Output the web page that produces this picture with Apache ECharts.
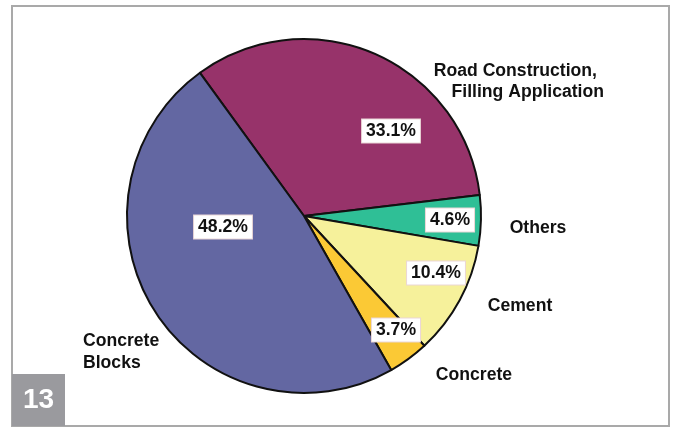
<!DOCTYPE html>
<html>
<head>
<meta charset="utf-8">
<script src="https://cdn.jsdelivr.net/npm/echarts@6/dist/echarts.min.js"></script>
<style>
  html, body { margin: 0; padding: 0; background: #fff; }
  #chart { width: 675px; height: 428px; }
</style>
</head>
<body>
<div id="chart"></div>
<script>
// Uses of fly ash, share of total (%), drawn clockwise from the upper left
const categories = ['Road Construction,\nFilling Application', 'Others', 'Cement', 'Concrete', 'Concrete\nBlocks'];
const shares = [33.1, 4.6, 10.4, 3.7, 48.2];
const sliceColors = ['#97336a', '#2fbf96', '#f6f19b', '#fbc935', '#6367a2'];
const figureNumber = '13';

// Label anchor points (layout only)
const pctLabelPos = [[391, 131], [450, 220], [436, 273], [396, 330], [223, 227]];
const nameLabelPos = [[604, 82, 'right'], [538, 228, 'center'], [520, 306, 'center'], [474, 375, 'center'], [83, 352, 'left']];

const FONT = '"Liberation Sans", Arial, sans-serif';
const NAME_SIZE = 17.6;

const pieData = categories.map((name, i) => ({
  name: name,
  value: shares[i],
  itemStyle: { color: sliceColors[i] }
}));

const chart = echarts.init(document.getElementById('chart'));

chart.setOption({
  backgroundColor: '#ffffff',
  animation: false,
  graphic: [
    {
      type: 'rect',
      shape: { x: 12, y: 6, width: 657, height: 420 },
      style: { fill: 'none', stroke: '#a9a9a9', lineWidth: 2 },
      z: 10
    },
    {
      type: 'rect',
      shape: { x: 12, y: 374, width: 53, height: 52 },
      style: { fill: '#9a9a9e' },
      z: 11
    },
    {
      type: 'text',
      x: 38.5, y: 400,
      style: {
        text: figureNumber,
        fill: '#ffffff',
        font: 'bold 28px ' + FONT,
        align: 'center',
        verticalAlign: 'middle'
      },
      z: 12
    }
  ],
  series: [
    {
      // slices with value boxes
      type: 'pie',
      center: [304, 216],
      radius: 177,
      startAngle: 126,
      clockwise: true,
      avoidLabelOverlap: false,
      data: pieData,
      itemStyle: { borderColor: '#111', borderWidth: 2 },
      label: {
        show: true,
        position: 'inside',
        formatter: p => p.value.toFixed(1) + '%',
        color: '#111',
        fontFamily: FONT,
        fontWeight: 'bold',
        fontSize: 17.6,
        backgroundColor: '#ffffff',
        borderColor: '#ead6d6',
        borderWidth: 1,
        padding: [3, 4, 2, 4]
      },
      labelLine: { show: false },
      labelLayout: p => ({
        x: pctLabelPos[p.dataIndex][0],
        y: pctLabelPos[p.dataIndex][1],
        align: 'center',
        verticalAlign: 'middle'
      }),
      emphasis: { disabled: true }
    },
    {
      // category names around the pie
      type: 'pie',
      center: [304, 216],
      radius: 177,
      startAngle: 126,
      clockwise: true,
      silent: true,
      avoidLabelOverlap: false,
      data: categories.map((name, i) => ({ name: name, value: shares[i] })),
      itemStyle: { color: 'rgba(0,0,0,0)', borderWidth: 0 },
      label: {
        show: true,
        position: 'outside',
        formatter: p => p.dataIndex === 0
          ? '{a|Road Construction,}\n{b|Filling Application}'
          : p.name,
        color: '#111',
        fontFamily: FONT,
        fontWeight: 'bold',
        fontSize: NAME_SIZE,
        lineHeight: 22,
        rich: {
          a: { fontFamily: FONT, fontWeight: 'bold', fontSize: NAME_SIZE, color: '#111', lineHeight: 21, padding: [0, 7, 0, 0] },
          b: { fontFamily: FONT, fontWeight: 'bold', fontSize: NAME_SIZE, color: '#111', lineHeight: 21 }
        }
      },
      labelLine: { show: false },
      labelLayout: p => ({
        x: nameLabelPos[p.dataIndex][0],
        y: nameLabelPos[p.dataIndex][1],
        align: nameLabelPos[p.dataIndex][2],
        verticalAlign: 'middle'
      }),
      emphasis: { disabled: true }
    }
  ]
});
</script>
</body>
</html>
